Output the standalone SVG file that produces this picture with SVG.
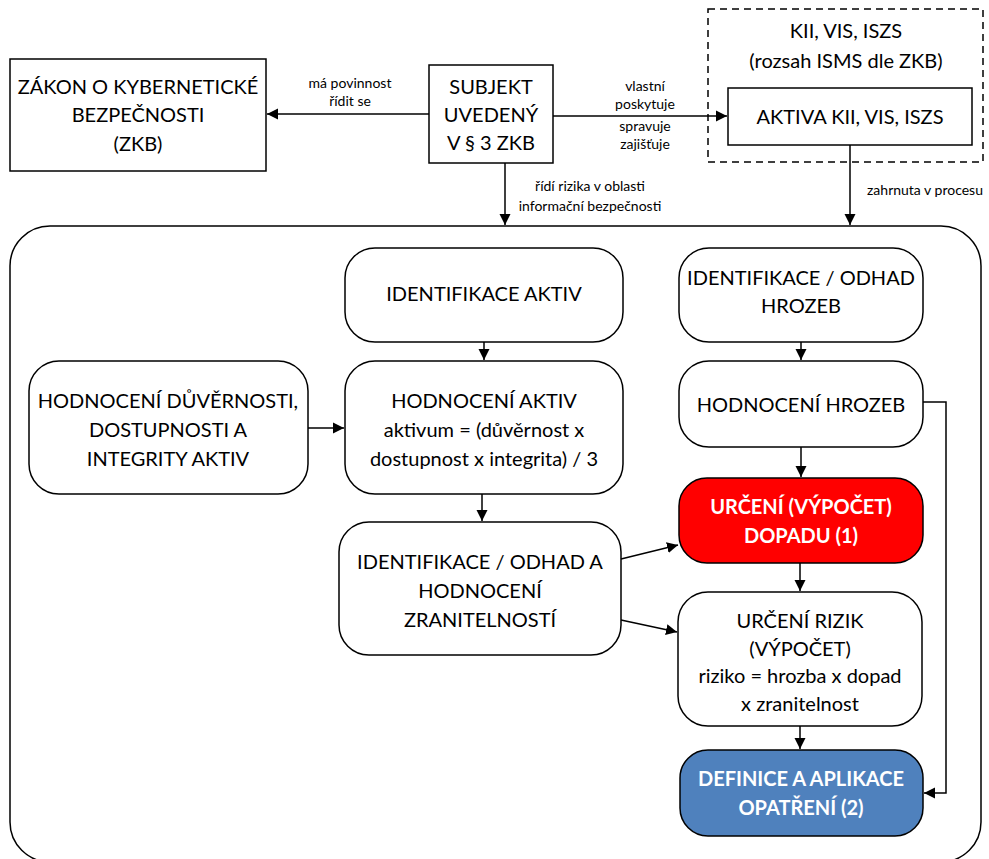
<svg xmlns="http://www.w3.org/2000/svg" width="989" height="859" viewBox="0 0 989 859">
<defs>
<marker id="ah" markerWidth="12" markerHeight="12" refX="11" refY="6" orient="auto" markerUnits="userSpaceOnUse">
<path d="M0,0.5 L11,6 L0,11.5 z" fill="#000"/>
</marker>
<style>
.b{fill:#fff;stroke:#000;stroke-width:1.5}
.t{font-family:Lato,"Liberation Sans",sans-serif;font-size:20px;fill:#000;text-anchor:middle}
.w{font-family:Lato,"Liberation Sans",sans-serif;font-size:20px;fill:#fff;font-weight:bold;text-anchor:middle}
.s{font-family:Lato,"Liberation Sans",sans-serif;font-size:14px;fill:#000;text-anchor:middle}
.c{fill:none;stroke:#000;stroke-width:1.5;marker-end:url(#ah)}
</style>
</defs>
<rect width="989" height="859" fill="#fff"/>
<g id="container"><rect x="10" y="226" width="971" height="636" rx="40" class="b"/></g>
<g id="zkb"><rect x="10" y="59" width="256" height="112" class="b"/>
<text class="t" x="138" y="94">ZÁKON O KYBERNETICKÉ</text>
<text class="t" x="138" y="122">BEZPEČNOSTI</text>
<text class="t" x="138" y="151">(ZKB)</text></g>
<g id="subjekt"><rect x="429" y="65" width="124" height="98" class="b"/>
<text class="t" x="491" y="94">SUBJEKT</text>
<text class="t" x="491" y="122">UVEDENÝ</text>
<text class="t" x="491" y="150">V § 3 ZKB</text></g>
<g id="scope"><rect x="708" y="9" width="275" height="153" fill="none" stroke="#000" stroke-width="1.5" stroke-dasharray="7,5"/>
<text class="t" x="846" y="38">KII, VIS, ISZS</text>
<text class="t" x="846" y="68">(rozsah ISMS dle ZKB)</text></g>
<g id="aktiva"><rect x="728" y="88" width="244" height="57" class="b"/>
<text class="t" x="850" y="124">AKTIVA KII, VIS, ISZS</text></g>
<g id="id-aktiv"><rect x="345" y="248" width="278" height="94" rx="30" class="b"/>
<text class="t" x="484" y="301">IDENTIFIKACE AKTIV</text></g>
<g id="hodn-dia"><rect x="29" y="361" width="279" height="133" rx="30" class="b"/>
<text class="t" x="168" y="408">HODNOCENÍ DŮVĚRNOSTI,</text>
<text class="t" x="168" y="437">DOSTUPNOSTI A</text>
<text class="t" x="168" y="466">INTEGRITY AKTIV</text></g>
<g id="hodn-aktiv"><rect x="345" y="361" width="278" height="133" rx="30" class="b"/>
<text class="t" x="484" y="408">HODNOCENÍ AKTIV</text>
<text class="t" x="484" y="437">aktivum = (důvěrnost x</text>
<text class="t" x="484" y="466">dostupnost x integrita) / 3</text></g>
<g id="zranitelnost"><rect x="339" y="522" width="282" height="133" rx="30" class="b"/>
<text class="t" x="480" y="569">IDENTIFIKACE / ODHAD A</text>
<text class="t" x="480" y="598">HODNOCENÍ</text>
<text class="t" x="480" y="627">ZRANITELNOSTÍ</text></g>
<g id="id-hrozeb"><rect x="679" y="248" width="244" height="94" rx="30" class="b"/>
<text class="t" x="801" y="285">IDENTIFIKACE / ODHAD</text>
<text class="t" x="801" y="313">HROZEB</text></g>
<g id="hodn-hrozeb"><rect x="679" y="361" width="244" height="86" rx="30" class="b"/>
<text class="t" x="801" y="412">HODNOCENÍ HROZEB</text></g>
<g id="dopad"><rect x="679" y="478" width="244" height="85" rx="28" fill="#f00" stroke="#000" stroke-width="1.5"/>
<text class="w" x="801" y="514">URČENÍ (VÝPOČET)</text>
<text class="w" x="801" y="543">DOPADU (1)</text></g>
<g id="rizika"><rect x="678" y="592" width="244" height="134" rx="30" class="b"/>
<text class="t" x="800" y="628">URČENÍ RIZIK</text>
<text class="t" x="800" y="656">(VÝPOČET)</text>
<text class="t" x="800" y="683">riziko = hrozba x dopad</text>
<text class="t" x="800" y="711">x zranitelnost</text></g>
<g id="opatreni"><rect x="680" y="750" width="243" height="86" rx="28" fill="#4f81bd" stroke="#000" stroke-width="1.5"/>
<text class="w" x="801" y="786">DEFINICE A APLIKACE</text>
<text class="w" x="801" y="815">OPATŘENÍ (2)</text></g>
<g id="connectors">
<path class="c" d="M429,114 H267"/>
<text class="s" x="350" y="88">má povinnost</text>
<text class="s" x="350" y="106">řídit se</text>
<path class="c" d="M553,116 H727"/>
<text class="s" x="645" y="91">vlastní</text>
<text class="s" x="645" y="109">poskytuje</text>
<text class="s" x="645" y="131">spravuje</text>
<text class="s" x="645" y="149">zajišťuje</text>
<path class="c" d="M505,163 V225"/>
<text class="s" x="590" y="191">řídí rizika v oblasti</text>
<text class="s" x="590" y="211">informační bezpečnosti</text>
<path class="c" d="M850,145 V225"/>
<text class="s" x="925" y="195">zahrnuta v procesu</text>
<path class="c" d="M484,342 V360"/>
<path class="c" d="M308,428 H344"/>
<path class="c" d="M482,494 V521"/>
<path class="c" d="M801,342 V360"/>
<path class="c" d="M801,447 V477"/>
<path class="c" d="M800,563 V591"/>
<path class="c" d="M800,726 V749"/>
<path class="c" d="M923,402 H946 V793 H924"/>
<path class="c" d="M621,559 L678,545"/>
<path class="c" d="M621,620 L677,632"/>
</g>
</svg>
